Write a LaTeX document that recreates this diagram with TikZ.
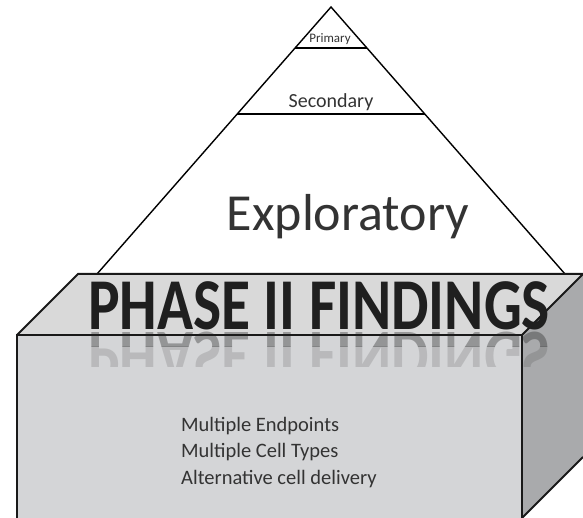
\documentclass[tikz,border=0pt]{standalone}
\usepackage{fontspec}
\setmainfont{Carlito}
\definecolor{frontgray}{HTML}{D4D5D7}
\definecolor{sidegray}{HTML}{A9AAAC}
\definecolor{topgray}{HTML}{D9D9D9}
\definecolor{inkgray}{HTML}{333333}
\tikzset{
  edge/.style={draw=black, line width=1.4pt},
  boxedge/.style={draw=black!90, line width=2pt, line join=miter},
  level/.style={text=inkgray, inner sep=0pt, anchor=base},
  banner/.style={font=\fontsize{73}{73}\selectfont\bfseries, text=black!88,
    inner sep=0pt, anchor=base, xscale=0.815},
}
\begin{document}
\begin{tikzpicture}[x=1pt,y=-1pt]
  \useasboundingbox (0,0) rectangle (583,518);
  % pyramid
  \coordinate (apex) at (331,7);
  \coordinate (baseL) at (97,274);
  \coordinate (baseR) at (565,274);
  \coordinate (primL) at (295,48);
  \coordinate (primR) at (367,48);
  \coordinate (secL) at (237,114);
  \coordinate (secR) at (425,114);
  \draw[edge] (baseL) -- (apex) -- (baseR);
  \draw[edge] (primL) -- (primR);
  \draw[edge] (secL) -- (secR);
  \node[level, font=\fontsize{13}{13}\selectfont] (primary) at (330,43) {Primary};
  \node[level, font=\fontsize{20}{20}\selectfont] (secondary) at (331,108) {Secondary};
  \node[level, font=\fontsize{52}{52}\selectfont] (exploratory) at (348,231) {Exploratory};
  % box
  \coordinate (ftl) at (17,335);
  \coordinate (ftr) at (522,335);
  \coordinate (fbl) at (17,518);
  \coordinate (fbr) at (522,518);
  \coordinate (btl) at (78,274);
  \coordinate (btr) at (583,274);
  \coordinate (bbr) at (583,457);
  \fill[topgray] (ftl) -- (btl) -- (btr) -- (ftr) -- cycle;
  \fill[frontgray] (fbl) -- (ftl) -- (ftr) -- (fbr) -- cycle;
  \fill[sidegray] (ftr) -- (btr) -- (bbr) -- (fbr) -- cycle;
  \draw[boxedge] (fbl) -- (ftl) -- (ftr) -- (fbr);
  \draw[boxedge] (ftl) -- (btl) -- (btr);
  \draw[boxedge] (ftr) -- (btr);
  \draw[boxedge] (fbr) -- (bbr);
  % banner and its reflection
  \node[banner] (findings) at (319,330) {PHASE II FINDINGS};
  \begin{scope}
    \clip (17,331) rectangle (583,346);
    \node[banner, yscale=-1, opacity=.35] at (319,332) {PHASE II FINDINGS};
  \end{scope}
  \begin{scope}
    \clip (17,346) rectangle (583,366);
    \node[banner, yscale=-1, opacity=.15] at (319,332) {PHASE II FINDINGS};
  \end{scope}
  \node[level, anchor=north west, align=left, font=\fontsize{20.5}{26.5}\selectfont]
    (points) at (181,417) {Multiple Endpoints\\Multiple Cell Types\\Alternative cell delivery};
\end{tikzpicture}
\end{document}
